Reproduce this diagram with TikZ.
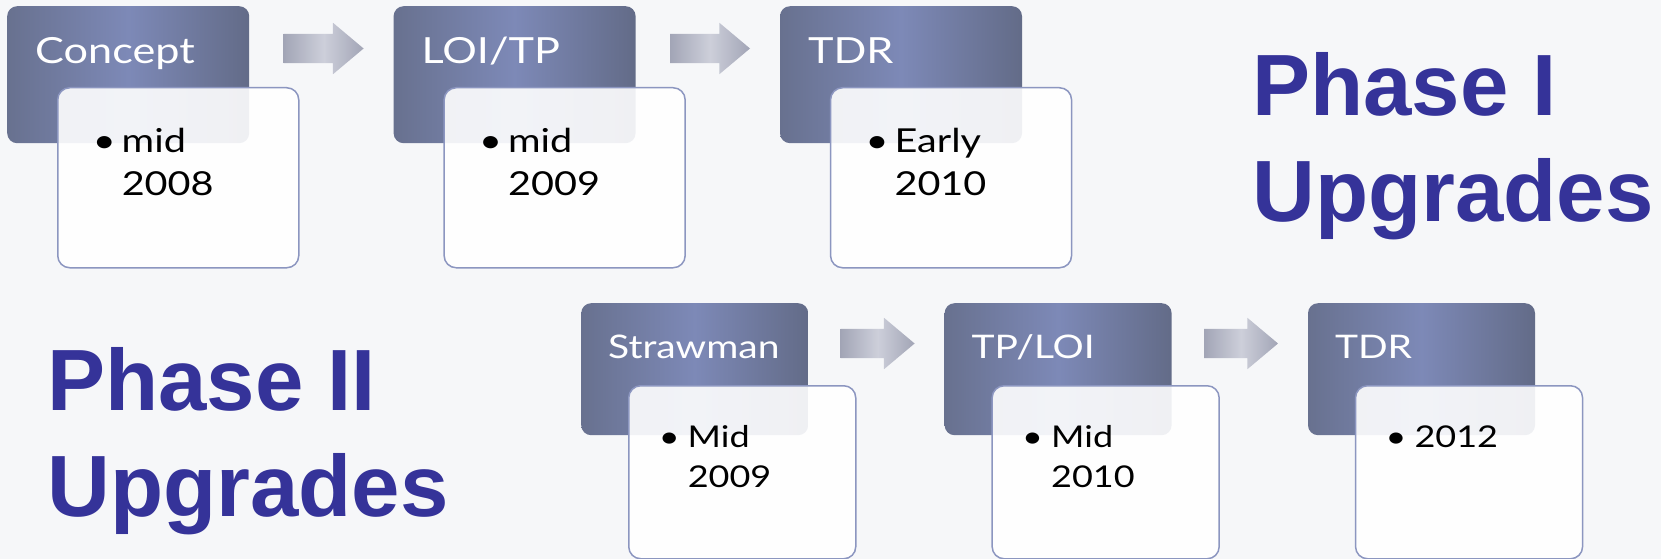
\documentclass[tikz,border=0pt]{standalone}
\usepackage{fontspec}
\setmainfont{Lato}[FakeStretch=1.2]
\newfontfamily\phasefont{Liberation Sans}
\usetikzlibrary{positioning,shapes.arrows}

\definecolor{slatedark}{HTML}{68718F}
\definecolor{slatelight}{HTML}{7D89B7}
\definecolor{edgeblue}{HTML}{8C96C0}
\definecolor{phaseblue}{HTML}{353399}
\definecolor{arrowdark}{HTML}{A2A5B6}
\definecolor{arrowlight}{HTML}{CDCFDA}
\definecolor{paper}{HTML}{F6F7F9}

\tikzset{
  stage/.style={anchor=north west, rounded corners=10pt,
    left color=slatedark, right color=slatedark!95!black, middle color=slatelight,
    text=white, align=left, font=\fontsize{36}{43}\selectfont,
    inner xsep=28pt, inner ysep=0pt, text width=186pt,
    text height=57pt, text depth=80pt},
  smallstage/.style={stage, font=\fontsize{32.5}{39}\selectfont,
    inner xsep=27pt, text width=173pt, text height=55pt, text depth=77pt},
  date/.style={anchor=north west, draw=edgeblue, line width=1.5pt,
    fill=white, fill opacity=0.9, text opacity=1, rounded corners=12pt,
    align=left, font=\fontsize{33}{43}\selectfont,
    inner xsep=35pt, inner ysep=0pt, text width=171pt,
    text height=65pt, text depth=115pt},
  smalldate/.style={date, font=\fontsize{30}{40}\selectfont,
    inner xsep=30pt, text width=167pt, text height=62pt, text depth=111pt},
  blockarrow/.style={single arrow, single arrow head extend=11pt,
    single arrow tip angle=80, minimum height=80pt, minimum width=51pt,
    inner sep=0pt, inner ysep=14.5pt,
    left color=arrowdark, right color=arrowdark, middle color=arrowlight},
  phase/.style={anchor=north west, inner sep=0pt, align=left, text=phaseblue,
    font=\phasefont\bfseries\fontsize{87}{106}\selectfont}
}

\newcommand{\datelines}[2]{\makebox[29pt][l]{\textbullet}#1\\\hspace*{29pt}#2}

\begin{document}
\begin{tikzpicture}[x=1pt, y=-1pt]
  \fill[paper] (0,0) rectangle (1661,559);
  \useasboundingbox (0,0) rectangle (1661,559);

  % phase I
  \node[stage] (concept) at (7,6) {Concept};
  \node[stage, right=144pt of concept] (loi) {LOI/TP};
  \node[stage, right=144pt of loi] (tdr) {TDR};
  \node[date, below right=81pt and 50pt of concept.north west] (concept-d) {\datelines{mid}{2008}};
  \node[date, below right=81pt and 50pt of loi.north west] (loi-d) {\datelines{mid}{2009}};
  \node[date, below right=81pt and 50pt of tdr.north west] (tdr-d) {\datelines{Early}{2010}};
  \node[blockarrow, right=34pt of concept.north east, yshift=-42.5pt] (arr1) {};
  \node[blockarrow, right=34pt of loi.north east, yshift=-42.5pt] (arr2) {};

  % phase II
  \node[smallstage] (straw) at (581,303) {Strawman};
  \node[smallstage, right=136pt of straw] (tp) {TP/LOI};
  \node[smallstage, right=136pt of tp] (tdr2) {TDR};
  \node[smalldate, below right=82pt and 47pt of straw.north west] (straw-d) {\datelines{Mid}{2009}};
  \node[smalldate, below right=82pt and 47pt of tp.north west] (tp-d) {\datelines{Mid}{2010}};
  \node[smalldate, below right=82pt and 47pt of tdr2.north west] (tdr2-d) {\makebox[29pt][l]{\textbullet}2012};
  \node[blockarrow, minimum height=74pt, minimum width=49pt, right=32pt of straw.north east, yshift=-40.5pt] (arr3) {};
  \node[blockarrow, minimum height=74pt, minimum width=49pt, right=32pt of tp.north east, yshift=-40.5pt] (arr4) {};

  \node[phase] (phase1) at (1252,52) {Phase I\\Upgrades};
  \node[phase] (phase2) at (47,347) {Phase II\\Upgrades};
\end{tikzpicture}
\end{document}
